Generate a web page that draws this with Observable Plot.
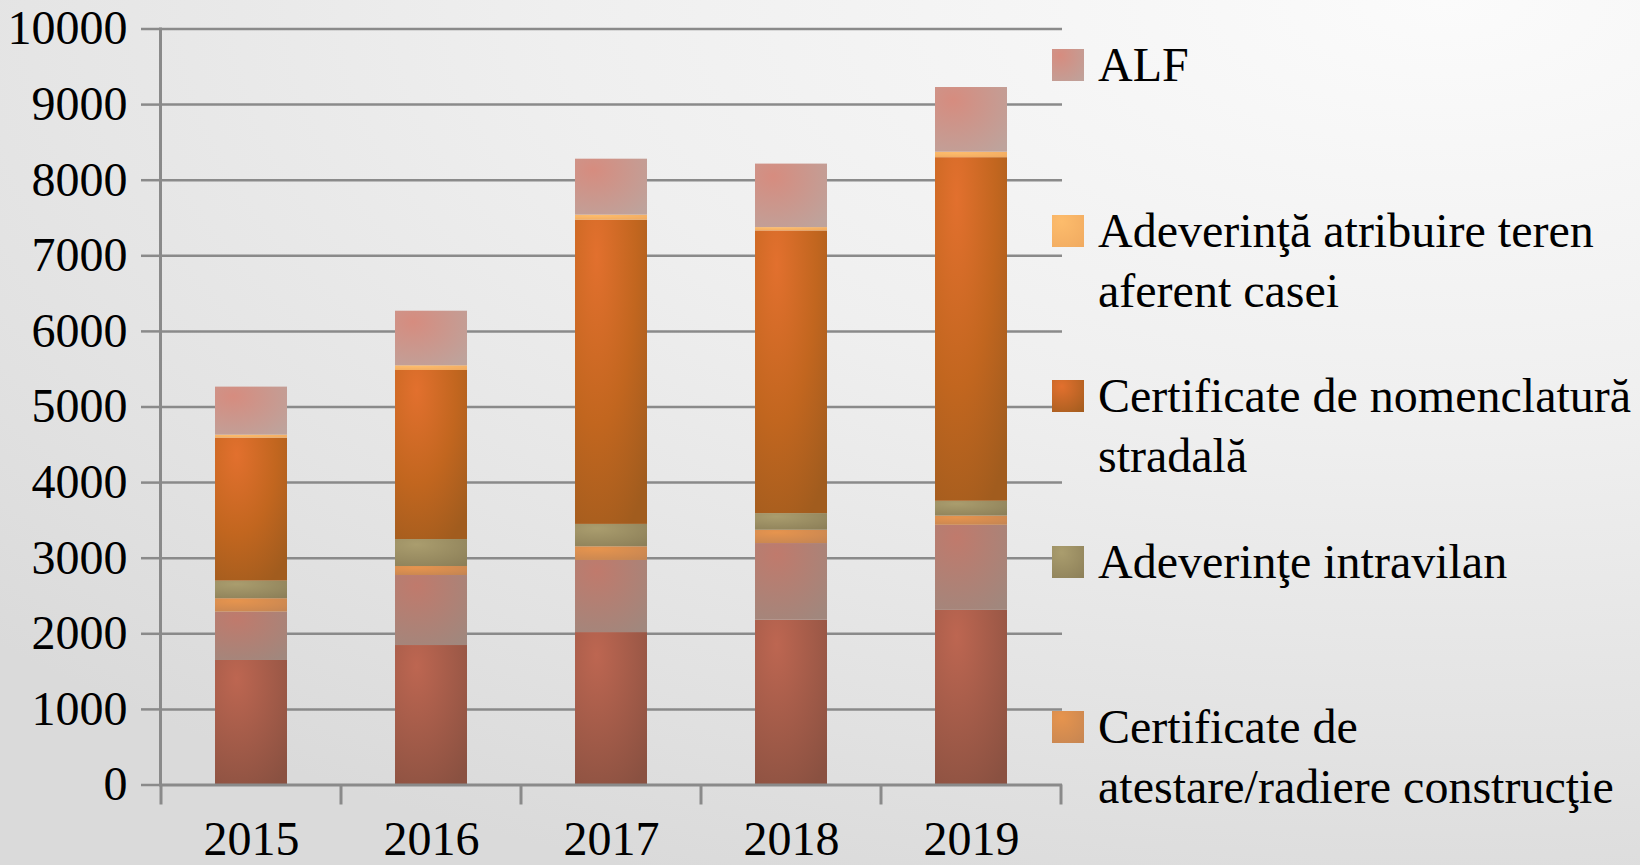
<!DOCTYPE html>
<html>
<head>
<meta charset="utf-8">
<script src="https://cdn.jsdelivr.net/npm/d3@7"></script>
<script src="https://cdn.jsdelivr.net/npm/@observablehq/plot@0.6"></script>
<style>
  html, body { margin: 0; padding: 0; }
  body {
    width: 1640px; height: 865px; overflow: hidden; position: relative;
    background: radial-gradient(ellipse 120% 110% at 88% 0%, #fbfbfb 0%, #efefef 45%, #e2e2e2 80%, #dadada 100%);
    font-family: "Liberation Serif", "Times New Roman", serif;
  }
  #chart { position: absolute; left: 0; top: 0; }
  #legend { position: absolute; left: 1052px; top: 35px; }
  .item { position: relative; height: 165.5px; }
  .sw { position: absolute; left: 0; top: 14px; width: 32px; height: 32px; }
  .lab { position: absolute; left: 46px; top: 0; font-size: 48px; line-height: 60px; color: #000; white-space: nowrap; }
</style>
</head>
<body>
<svg width="0" height="0" style="position:absolute">
  <defs>
    <radialGradient id="g-alf" cx="0.25" cy="0.2" r="1">
      <stop offset="0" stop-color="#d68c7f"/><stop offset="1" stop-color="#bea39c"/>
    </radialGradient>
    <radialGradient id="g-atr" cx="0.3" cy="0.2" r="1">
      <stop offset="0" stop-color="#fdbc6c"/><stop offset="1" stop-color="#f0aa60"/>
    </radialGradient>
    <radialGradient id="g-nom" cx="0.3" cy="0.12" r="1">
      <stop offset="0" stop-color="#e2702e"/><stop offset="0.55" stop-color="#c2661f"/><stop offset="1" stop-color="#a15c1e"/>
    </radialGradient>
    <radialGradient id="g-int" cx="0.3" cy="0.2" r="1">
      <stop offset="0" stop-color="#aa9d6e"/><stop offset="1" stop-color="#8c7f58"/>
    </radialGradient>
    <radialGradient id="g-ate" cx="0.3" cy="0.2" r="1">
      <stop offset="0" stop-color="#e6944e"/><stop offset="1" stop-color="#c58552"/>
    </radialGradient>
    <radialGradient id="g-s6" cx="0.3" cy="0.15" r="1">
      <stop offset="0" stop-color="#c07a6c"/><stop offset="1" stop-color="#a1877d"/>
    </radialGradient>
    <radialGradient id="g-s7" cx="0.3" cy="0.15" r="1">
      <stop offset="0" stop-color="#bd6651"/><stop offset="1" stop-color="#8a5141"/>
    </radialGradient>
  </defs>
</svg>
<div id="chart"></div>
<div id="legend"></div>
<script>
// ---- data ----
const years = ["2015", "2016", "2017", "2018", "2019"];
// series listed bottom -> top of the stack
const seriesNames = [
  "Seria 7",
  "Seria 6",
  "Certificate de atestare/radiere construcţie",
  "Adeverinţe intravilan",
  "Certificate de nomenclatură stradală",
  "Adeverinţă atribuire teren aferent casei",
  "ALF"
];
const s7Values          = [1647, 1845, 2016, 2180, 2310];
const s6Values          = [640, 926, 954, 1014, 1125];
const atestareValues    = [177, 119, 181, 176, 122];
const intravilanValues  = [233, 357, 296, 220, 196];
const nomenclaturaValues= [1891, 2236, 4025, 3739, 4545];
const atribuireValues   = [40, 62, 66, 44, 72];
const alfValues         = [635, 722, 740, 840, 856];
const yTicks = [0, 1000, 2000, 3000, 4000, 5000, 6000, 7000, 8000, 9000, 10000];

// legend entries as shown (top -> bottom), with line breaks
const legendEntries = [
  {name: "ALF", lines: ["ALF"]},
  {name: "Adeverinţă atribuire teren aferent casei", lines: ["Adeverinţă atribuire teren", "aferent casei"]},
  {name: "Certificate de nomenclatură stradală", lines: ["Certificate de nomenclatură", "stradală"]},
  {name: "Adeverinţe intravilan", lines: ["Adeverinţe intravilan"]},
  {name: "Certificate de atestare/radiere construcţie", lines: ["Certificate de", "atestare/radiere construcţie"]}
];

const fills = ["url(#g-s7)", "url(#g-s6)", "url(#g-ate)", "url(#g-int)", "url(#g-nom)", "url(#g-atr)", "url(#g-alf)"];
const cssFills = {
  "ALF": "radial-gradient(circle at 25% 20%, #d68c7f, #bea39c)",
  "Adeverinţă atribuire teren aferent casei": "radial-gradient(circle at 30% 20%, #fdbc6c, #f0aa60)",
  "Certificate de nomenclatură stradală": "radial-gradient(circle at 30% 20%, #e2702e, #a15c1e)",
  "Adeverinţe intravilan": "radial-gradient(circle at 30% 20%, #aa9d6e, #8c7f58)",
  "Certificate de atestare/radiere construcţie": "radial-gradient(circle at 30% 20%, #e6944e, #c58552)"
};

const valueLists = [s7Values, s6Values, atestareValues, intravilanValues, nomenclaturaValues, atribuireValues, alfValues];
const table = [];
seriesNames.forEach((s, si) => {
  years.forEach((y, yi) => table.push({year: y, series: s, value: valueLists[si][yi]}));
});

const FONT = "'Liberation Serif', 'Times New Roman', serif";
const GRID = "#8a8a8a";

const chart = Plot.plot({
  width: 1640,
  height: 865,
  marginLeft: 160,
  marginRight: 578,
  marginTop: 28.5,
  marginBottom: 80.5,
  style: {background: "transparent", fontFamily: FONT, fontSize: "48px", color: "#000", overflow: "visible"},
  x: {domain: years, paddingInner: 0.6, paddingOuter: 0.3, axis: null},
  y: {domain: [0, 10000], axis: null},
  color: {domain: seriesNames, range: fills},
  marks: [
    Plot.ruleY(yTicks.filter(d => d > 0), {stroke: GRID, strokeWidth: 2.5}),
    Plot.barY(table, {x: "year", y: "value", fill: "series"}),
    Plot.ruleY([0], {stroke: GRID, strokeWidth: 3}),
    Plot.frame({anchor: "left", stroke: GRID, strokeWidth: 3}),
    Plot.axisY({ticks: yTicks, tickFormat: "d", tickSize: 19, tickPadding: 14, stroke: GRID, strokeWidth: 2.5, fill: "#000", fontSize: 48, fontFamily: FONT, label: null}),
    Plot.axisX({tickSize: 0, tickPadding: 36, fill: "#000", fontSize: 48, fontFamily: FONT, label: null})
  ]
});
document.getElementById("chart").appendChild(chart);

// category boundary ticks below the x axis, derived from the band scale
const xs = chart.scale("x");
const ys = chart.scale("y");
const gap = (xs.step - xs.bandwidth) / 2;
const bounds = years.map(y => xs.apply(y) - gap);
bounds.push(xs.apply(years[years.length - 1]) + xs.bandwidth + gap);
const y0 = ys.apply(0);
d3.select(chart).append("g")
  .selectAll("line").data(bounds).join("line")
  .attr("x1", d => d).attr("x2", d => d)
  .attr("y1", y0).attr("y2", y0 + 20)
  .attr("stroke", GRID).attr("stroke-width", 3);

// legend
const leg = d3.select("#legend");
legendEntries.forEach(e => {
  const it = leg.append("div").attr("class", "item");
  it.append("div").attr("class", "sw").style("background", cssFills[e.name]);
  it.append("div").attr("class", "lab").html(e.lines.join("<br>"));
});
</script>
</body>
</html>
